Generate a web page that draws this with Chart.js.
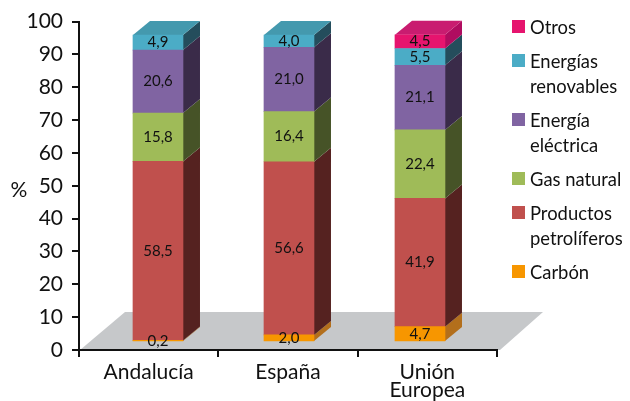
<!DOCTYPE html>
<html lang="es">
<head>
<meta charset="utf-8">
<title>Consumo de energía final</title>
<script src="https://cdn.jsdelivr.net/npm/chart.js@4/dist/chart.umd.min.js"></script>
<style>
  html, body { margin: 0; padding: 0; background: #fff; }
  #caja { position: relative; width: 630px; height: 401px; overflow: hidden; }
  canvas { display: block; }
  #leyenda {
    position: absolute; left: 512px; top: 15px; margin: 0; padding: 0; list-style: none;
    font: 18.4px/25px Lato, "Open Sans", sans-serif; color: #111;
  }
  #leyenda li { position: relative; padding-left: 18px; margin-bottom: 9px; white-space: nowrap; }
  #leyenda i { position: absolute; left: 0; top: 5px; width: 13px; height: 13px; }
</style>
</head>
<body>
<div id="caja">
<canvas id="grafico" width="630" height="401"></canvas>
<ul id="leyenda"></ul>
</div>
<script>
// Datos
const categorias = ['Andalucía', 'España', ['Unión', 'Europea']];
const carbon = [0.2, 2.0, 4.7];
const petroliferos = [58.5, 56.6, 41.9];
const gasNatural = [15.8, 16.4, 22.4];
const electrica = [20.6, 21.0, 21.1];
const renovables = [4.9, 4.0, 5.5];
const otros = [null, null, 4.5];
const ticksY = [0, 10, 20, 30, 40, 50, 60, 70, 80, 90, 100];

const FUENTE = 'Lato, "Open Sans", sans-serif';
const FONDO_X = 17, FONDO_Y = 14; // profundidad de las barras

function serie(lineas, valores, frente, lado, techo) {
    return {
        label: lineas.join(' '),
        lineas: lineas,
        data: valores.map((v, i) => ({ x: i, y: v })),
        backgroundColor: frente,
        colorLado: lado,
        colorTecho: techo,
        xAxisID: 'xBarras',
        yAxisID: 'yBarras',
        barThickness: 50,
        stack: 'total'
    };
}

const datasets = [
    serie(['Carbón'], carbon, '#f79600', '#b36f1c', '#c98a2a'),
    serie(['Productos', 'petrolíferos'], petroliferos, '#c0504d', '#552220', '#8a3a38'),
    serie(['Gas natural'], gasNatural, '#9fbb58', '#465327', '#7c9345'),
    serie(['Energía', 'eléctrica'], electrica, '#8064a2', '#3a2b49', '#654f80'),
    serie(['Energías', 'renovables'], renovables, '#4bacc6', '#244d5c', '#4499ae'),
    serie(['Otros'], otros, '#e6146e', '#b00c60', '#c91c70')
];

// Leyenda, de arriba abajo en el orden de la pila
const leyenda = document.getElementById('leyenda');
datasets.slice().reverse().forEach(ds => {
    const li = document.createElement('li');
    const marca = document.createElement('i');
    marca.style.background = ds.backgroundColor;
    li.appendChild(marca);
    ds.lineas.forEach((linea, n) => {
        if (n > 0) li.appendChild(document.createElement('br'));
        li.appendChild(document.createTextNode(linea));
    });
    leyenda.appendChild(li);
});

// Suelo gris, detrás de los ejes
const suelo = {
    id: 'suelo',
    beforeDraw(chart) {
        const a = chart.chartArea, c = chart.ctx;
        c.save();
        c.fillStyle = '#c6c8ca';
        c.beginPath();
        c.moveTo(a.left + 1, a.bottom);
        c.lineTo(a.left + 46, a.bottom - 38);
        c.lineTo(a.right + 46, a.bottom - 38);
        c.lineTo(a.right + 3, a.bottom);
        c.closePath();
        c.fill();
        c.restore();
    }
};

// Caras laterales y techo de cada barra
const caras = {
    id: 'caras',
    beforeDatasetsDraw(chart) {
        const c = chart.ctx;
        c.save();
        chart.data.datasets.forEach((ds, d) => {
            chart.getDatasetMeta(d).data.forEach((bar, i) => {
                if (ds.data[i].y === null) return;
                const der = bar.x + bar.width / 2;
                c.fillStyle = ds.colorLado;
                c.beginPath();
                c.moveTo(der, bar.base);
                c.lineTo(der + FONDO_X, bar.base - FONDO_Y);
                c.lineTo(der + FONDO_X, bar.y - FONDO_Y);
                c.lineTo(der, bar.y);
                c.closePath();
                c.fill();
            });
        });
        // el techo solo para el último tramo de cada columna
        categorias.forEach((cat, i) => {
            let d = chart.data.datasets.length - 1;
            while (chart.data.datasets[d].data[i].y === null) d--;
            const bar = chart.getDatasetMeta(d).data[i];
            const izq = bar.x - bar.width / 2, der = bar.x + bar.width / 2;
            c.fillStyle = chart.data.datasets[d].colorTecho;
            c.beginPath();
            c.moveTo(izq, bar.y);
            c.lineTo(izq + FONDO_X, bar.y - FONDO_Y);
            c.lineTo(der + FONDO_X, bar.y - FONDO_Y);
            c.lineTo(der, bar.y);
            c.closePath();
            c.fill();
        });
        c.restore();
    }
};

// Valores sobre las barras y el "%" del eje
const textos = {
    id: 'textos',
    afterDraw(chart) {
        const c = chart.ctx;
        c.save();
        c.fillStyle = '#111';
        c.textAlign = 'center';
        c.textBaseline = 'middle';
        c.font = '15px ' + FUENTE;
        chart.data.datasets.forEach((ds, d) => {
            chart.getDatasetMeta(d).data.forEach((bar, i) => {
                const v = ds.data[i].y;
                if (v === null) return;
                c.fillText(v.toFixed(1).replace('.', ','), bar.x, (bar.y + bar.base) / 2);
            });
        });
        c.font = '21px ' + FUENTE;
        c.fillText('%', 19, chart.scales.y.getPixelForValue(50) + 4);
        c.restore();
    }
};

new Chart(document.getElementById('grafico'), {
    type: 'bar',
    data: { labels: categorias, datasets: datasets },
    plugins: [suelo, caras, textos],
    options: {
        responsive: false,
        animation: false,
        layout: { padding: { top: 20, right: 133, bottom: 0, left: 0 } },
        plugins: {
            legend: { display: false },
            tooltip: { enabled: false }
        },
        scales: {
            x: {
                type: 'category',
                offset: true,
                border: { color: '#111', width: 2 },
                grid: { offset: true, drawOnChartArea: false, tickLength: 7, tickColor: '#111', lineWidth: 2 },
                ticks: {
                    color: '#111',
                    padding: 7,
                    maxRotation: 0,
                    font: { family: FUENTE, size: 21, lineHeight: 0.82 }
                },
                afterFit(s) { s.height = 51; }
            },
            y: {
                min: 0,
                max: 100,
                border: { color: '#111', width: 2 },
                grid: { drawOnChartArea: false, tickLength: 7, tickColor: '#111', lineWidth: 2 },
                afterBuildTicks(s) { s.ticks = ticksY.map(v => ({ value: v })); },
                ticks: { color: '#111', padding: 9, font: { family: FUENTE, size: 21 } },
                afterFit(s) { s.width = 79; }
            },
            // Escalas ocultas para las barras, en perspectiva respecto a los ejes
            xBarras: { type: 'linear', display: false, min: -0.603, max: 2.588, offset: false, grid: { display: false } },
            yBarras: { type: 'linear', display: false, stacked: true, min: -2.93, max: 104.4 }
        }
    }
});
</script>
</body>
</html>
